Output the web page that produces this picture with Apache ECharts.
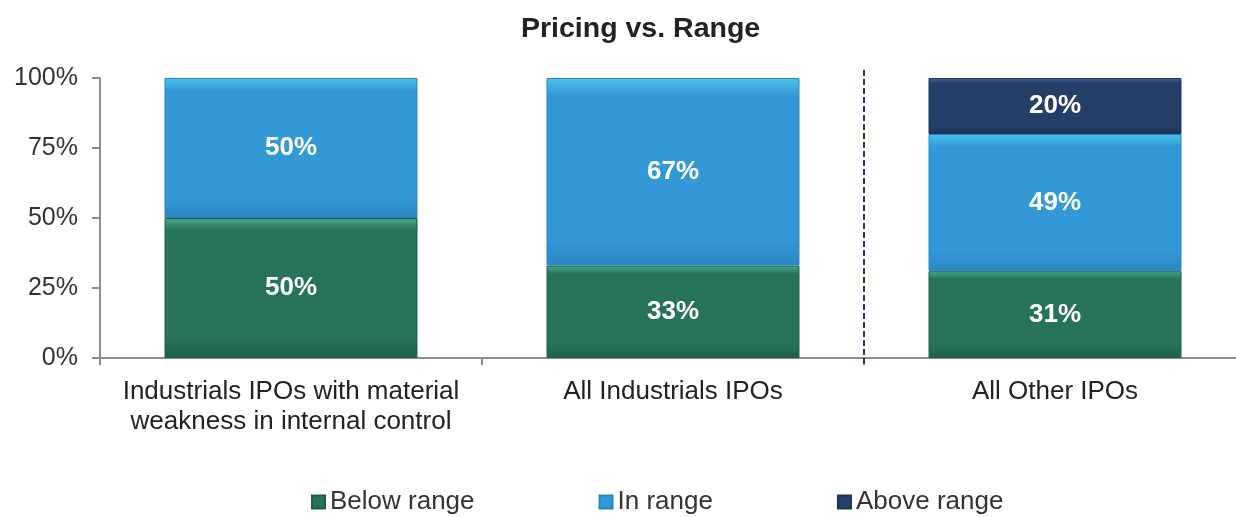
<!DOCTYPE html>
<html>
<head>
<meta charset="utf-8">
<script src="https://cdn.jsdelivr.net/npm/echarts@6/dist/echarts.min.js"></script>
<style>
html, body { margin: 0; padding: 0; background: #fff; }
#chart { width: 1236px; height: 517px; }
</style>
</head>
<body>
<div id="chart"></div>
<script>
var categories = ['Industrials IPOs with material\nweakness in internal control', 'All Industrials IPOs', 'All Other IPOs'];
var belowRange = [50, 33, 31];
var inRange = [50, 67, 49];
var aboveRange = [null, null, 20];
var yTicks = [0, 25, 50, 75, 100];

function bevel(light, main, dark) {
	return new echarts.graphic.LinearGradient(0, 0, 0, 1, [
		{ offset: 0, color: light },
		{ offset: 0.09, color: main },
		{ offset: 0.85, color: main },
		{ offset: 1, color: dark }
	]);
}

var FONT = 'Liberation Sans';
var labelStyle = {
	show: true,
	position: 'inside',
	color: '#fff',
	fontFamily: FONT,
	fontWeight: 'bold',
	fontSize: 26,
	formatter: '{c}%'
};

var myChart = echarts.init(document.getElementById('chart'));
var option = {
	animation: false,
	title: {
		text: 'Pricing vs. Range',
		left: 516,
		top: 10,
		textStyle: { fontFamily: FONT, fontSize: 28.5, fontWeight: 'bold', color: '#222' }
	},
	legend: {
		bottom: -3,
		left: 306,
		itemGap: 124,
		itemWidth: 13,
		itemHeight: 13,
		icon: 'rect',
		textStyle: { fontFamily: FONT, fontSize: 26, color: '#333' },
		data: ['Below range', 'In range', 'Above range']
	},
	grid: { left: 100, top: 78, width: 1146, height: 280, containLabel: false, outerBoundsMode: 'none' },
	xAxis: {
		type: 'category',
		data: categories,
		axisLine: { lineStyle: { color: '#8a8d90', width: 2 } },
		axisTick: { show: true, interval: 0, length: 7, lineStyle: { color: '#8a8d90', width: 2 } },
		axisLabel: { interval: 0, fontFamily: FONT, fontSize: 26, color: '#222', lineHeight: 30, margin: 19 }
	},
	yAxis: {
		type: 'value',
		min: yTicks[0],
		max: yTicks[yTicks.length - 1],
		interval: 25,
		axisLine: { show: true, lineStyle: { color: '#8a8d90', width: 2 } },
		axisTick: { show: true, length: 8, lineStyle: { color: '#8a8d90', width: 2 } },
		splitLine: { show: false },
		axisLabel: { fontFamily: FONT, fontSize: 25, color: '#333', margin: 22, formatter: '{value}%' }
	},
	series: [
		{
			name: 'Below range',
			type: 'bar',
			stack: 'total',
			barWidth: 253,
			data: belowRange,
			label: labelStyle,
			itemStyle: { color: bevel('#4aa888', '#26735a', '#1f604b'), borderColor: '#1e5c48', borderWidth: 1 }
		},
		{
			name: 'In range',
			type: 'bar',
			stack: 'total',
			barWidth: 253,
			data: inRange,
			label: labelStyle,
			itemStyle: { color: bevel('#4cc3ec', '#3399d6', '#2b88c4'), borderColor: '#2b86bf', borderWidth: 1 }
		},
		{
			name: 'Above range',
			type: 'bar',
			stack: 'total',
			barWidth: 253,
			data: aboveRange,
			label: labelStyle,
			itemStyle: { color: bevel('#3d6aa0', '#253f69', '#1e3458'), borderColor: '#1d3356', borderWidth: 1 }
		}
	]
};
myChart.setOption(option);

// dashed divider between the industrials groups and all other IPOs
var xa = myChart.convertToPixel({ xAxisIndex: 0 }, 1);
var xb = myChart.convertToPixel({ xAxisIndex: 0 }, 2);
var divX = Math.round((xa + xb) / 2);
var yTop = myChart.convertToPixel({ yAxisIndex: 0 }, 100);
var yBot = myChart.convertToPixel({ yAxisIndex: 0 }, 0);
myChart.setOption({
	graphic: [{
		type: 'line',
		shape: { x1: divX, y1: yTop - 8, x2: divX, y2: yBot + 7 },
		style: { stroke: '#1f3a66', lineWidth: 2, lineDash: [6, 3] },
		z: 10
	}]
});
</script>
</body>
</html>
